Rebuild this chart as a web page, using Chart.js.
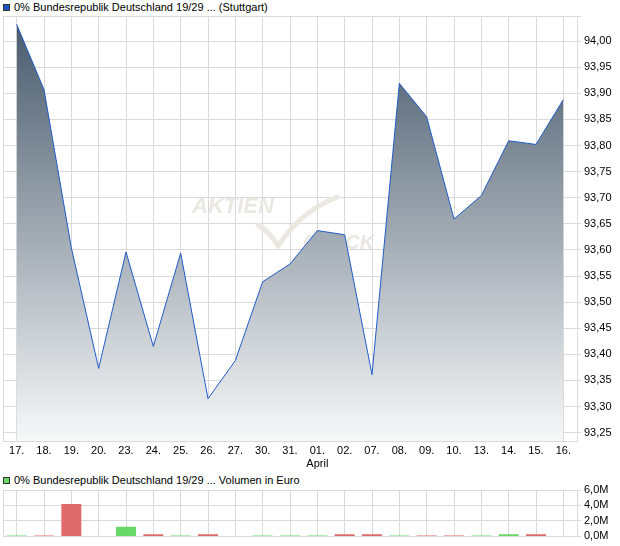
<!DOCTYPE html>
<html>
<head>
<meta charset="utf-8">
<script src="https://cdn.jsdelivr.net/npm/chart.js@4.4.1/dist/chart.umd.min.js"></script>
<style>
  body { margin: 0; background: #fff; }
  #wrap { position: relative; width: 620px; height: 546px; }
  .kopf { position: absolute; left: 3px; font-family: "Liberation Sans", Arial, sans-serif; font-size: 11px; line-height: 14px; color: #000; white-space: nowrap; }
  .kopf .box { display: inline-block; width: 5px; height: 5px; border: 1px solid #333; margin-right: 4px; vertical-align: 0px; }
  canvas { position: absolute; left: 0; }
</style>
</head>
<body>
<div id="wrap">
  <div class="kopf" style="top:0px"><span class="box" style="background:#1f55c0"></span>0% Bundesrepublik Deutschland 19/29 ... (Stuttgart)</div>
  <canvas id="kursChart" width="620" height="470" style="top:0"></canvas>
  <div class="kopf" style="top:473px"><span class="box" style="background:#66d966"></span>0% Bundesrepublik Deutschland 19/29 ... Volumen in Euro</div>
  <canvas id="volChart" width="620" height="76" style="top:470px"></canvas>
</div>
<script>
// Handelstage (Maerz / April)
const tage = ['17.', '18.', '19.', '20.', '23.', '24.', '25.', '26.', '27.', '30.', '31.',
              '01.', '02.', '07.', '08.', '09.', '10.', '13.', '14.', '15.', '16.'];
const monatMarken = [[11, 'April']];

// Schlusskurse in %
const kurse = [94.032, 93.907, 93.604, 93.373, 93.596, 93.415, 93.594, 93.315, 93.388, 93.539, 93.573,
               93.637, 93.629, 93.361, 93.919, 93.855, 93.659, 93.704, 93.809, 93.802, 93.888];

// Volumen in Mio. Euro
const volumenMio = [0.13, 0.13, 4.2, 0, 1.25, 0.27, 0.13, 0.27, 0, 0.13, 0.13,
                    0.13, 0.27, 0.27, 0.13, 0.13, 0.13, 0.13, 0.27, 0.27, 0];

const kursTicks = [93.25, 93.30, 93.35, 93.40, 93.45, 93.50, 93.55, 93.60, 93.65, 93.70, 93.75, 93.80, 93.85, 93.90, 93.95, 94.00];
const kursMin = 93.234;
const kursMax = 94.048;
const volTicks = [0, 2, 4, 6];

const schrift = { family: '"Liberation Sans", Arial, sans-serif', size: 11 };
const gitter = '#dadada';

const komma = (v, d) => v.toFixed(d).replace('.', ',');

// linker Rand der Zeichenflaeche
const rahmenLinks = {
  id: 'rahmenLinks',
  beforeDatasetsDraw(chart) {
    const { ctx, chartArea } = chart;
    ctx.save();
    ctx.strokeStyle = gitter;
    ctx.lineWidth = 1;
    ctx.beginPath();
    ctx.moveTo(Math.round(chartArea.left) + 0.5, chartArea.top);
    ctx.lineTo(Math.round(chartArea.left) + 0.5, chartArea.bottom);
    ctx.stroke();
    ctx.restore();
  }
};

// Wasserzeichen hinter der Kursflaeche
const wasserzeichen = {
  id: 'wasserzeichen',
  beforeDatasetsDraw(chart) {
    const ctx = chart.ctx;
    ctx.save();
    ctx.fillStyle = '#ebe7e1';
    ctx.strokeStyle = '#ebe7e1';
    ctx.font = 'italic bold 22px "Liberation Sans", Arial, sans-serif';
    ctx.fillText('AKTIEN', 192, 213);
    ctx.font = 'italic bold 20px "Liberation Sans", Arial, sans-serif';
    ctx.fillText('CHECK', 303, 249);
    ctx.lineWidth = 5;
    ctx.lineCap = 'round';
    ctx.beginPath();
    ctx.moveTo(258, 225);
    ctx.quadraticCurveTo(270, 232, 278, 246);
    ctx.quadraticCurveTo(300, 212, 337, 197);
    ctx.stroke();
    ctx.restore();
  }
};

const kursFlaeche = (context) => {
  const { ctx, chartArea } = context.chart;
  if (!chartArea) return '#8f9ca3';
  const g = ctx.createLinearGradient(0, chartArea.top, 0, chartArea.bottom);
  g.addColorStop(0, '#46586a');
  g.addColorStop(1, '#f7f8f8');
  return g;
};

new Chart(document.getElementById('kursChart'), {
  type: 'line',
  data: {
    labels: tage,
    datasets: [{
      label: '0% Bundesrepublik Deutschland 19/29 ... (Stuttgart)',
      data: kurse,
      borderColor: '#1f5cc8',
      borderWidth: 1,
      backgroundColor: kursFlaeche,
      fill: 'start',
      pointRadius: 0,
      tension: 0
    }]
  },
  options: {
    responsive: false,
    animation: false,
    devicePixelRatio: 1,
    layout: { padding: { left: 3, top: 16, right: 0, bottom: 0 } },
    plugins: { legend: { display: false }, tooltip: { enabled: false } },
    scales: {
      x: {
        offset: true,
        grid: { color: gitter, offset: false, drawTicks: false },
        border: { color: gitter },
        ticks: {
          autoSkip: false, maxRotation: 0, padding: 3, color: '#000', font: schrift,
          callback: (v, i) => {
            const m = monatMarken.find(e => e[0] === i);
            return m ? [tage[i], m[1]] : tage[i];
          }
        },
        afterFit: s => { s.height = 29; }
      },
      y: {
        position: 'right',
        min: kursMin,
        max: kursMax,
        grid: { color: gitter, tickLength: 4 },
        border: { color: gitter },
        afterBuildTicks: s => { s.ticks = kursTicks.concat([kursMax]).map(v => ({ value: v })); },
        ticks: {
          autoSkip: false, padding: 3, color: '#000', font: schrift,
          callback: v => (v === kursMax ? '' : komma(v, 2))
        },
        afterFit: s => { s.width = 43; }
      }
    }
  },
  plugins: [rahmenLinks, wasserzeichen]
});

new Chart(document.getElementById('volChart'), {
  type: 'bar',
  data: {
    labels: tage,
    datasets: [{
      label: '0% Bundesrepublik Deutschland 19/29 ... Volumen in Euro',
      data: volumenMio,
      backgroundColor: volumenMio.map((v, i) => (i === 0 || kurse[i] >= kurse[i - 1] ? '#68d968' : '#de6a6a')),
      categoryPercentage: 1,
      barPercentage: 0.73
    }]
  },
  options: {
    responsive: false,
    animation: false,
    devicePixelRatio: 1,
    layout: { padding: { left: 3, top: 20, right: 0, bottom: 9 } },
    plugins: { legend: { display: false }, tooltip: { enabled: false } },
    scales: {
      x: {
        grid: { color: gitter, offset: false, drawTicks: false },
        border: { color: gitter },
        ticks: { display: false },
        afterFit: s => { s.height = 0; }
      },
      y: {
        position: 'right',
        min: 0,
        max: 6,
        grid: { color: gitter, tickLength: 4 },
        border: { color: gitter },
        afterBuildTicks: s => { s.ticks = volTicks.map(v => ({ value: v })); },
        ticks: { autoSkip: false, padding: 3, color: '#000', font: schrift, callback: v => komma(v, 1) + 'M' },
        afterFit: s => { s.width = 43; }
      }
    }
  },
  plugins: [rahmenLinks]
});
</script>
</body>
</html>
